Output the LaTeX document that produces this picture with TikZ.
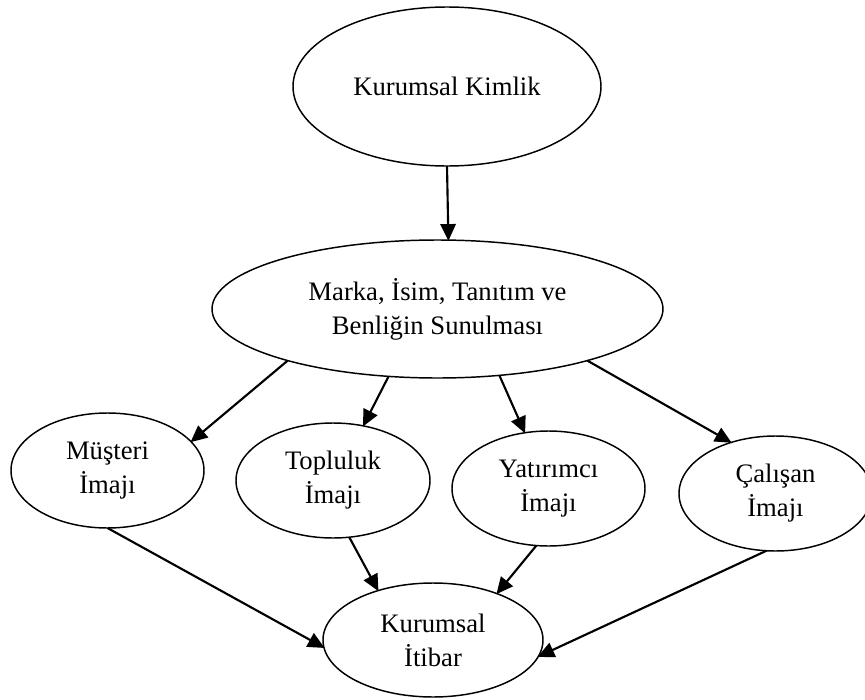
\documentclass[tikz,border=0pt]{standalone}
\usepackage{fontspec}
\setmainfont{Liberation Serif}
\usetikzlibrary{shapes.geometric,arrows.meta}
\begin{document}
\begin{tikzpicture}[x=0.75pt,y=-0.75pt,
  bubble/.style={ellipse,draw,line width=1.1pt,inner sep=0pt,outer sep=0pt,
    align=center,font=\fontsize{20}{25.5}\selectfont},
  flow/.style={line width=1.6pt,-{Triangle[length=12.5pt,width=11.5pt]},shorten >=-0.5pt}]
\useasboundingbox (0,0) rectangle (865,700);

% ellipses
\node[bubble,minimum width=231pt,minimum height=119.25pt] (kimlik) at (447,86.5) {Kurumsal Kimlik};
\node[bubble,minimum width=338.25pt,minimum height=103.5pt] (marka) at (437.5,309) {Marka, İsim, Tanıtım ve\\Benliğin Sunulması};
\node[bubble,minimum width=144.75pt,minimum height=86.25pt] (musteri) at (107.5,470.5) {Müşteri\\İmajı};
\node[bubble,minimum width=145.5pt,minimum height=86.25pt] (topluluk) at (333,480.5) {Topluluk\\İmajı};
\node[bubble,minimum width=144.75pt,minimum height=86.25pt] (yatirimci) at (548.5,488.5) {Yatırımcı\\İmajı};
\node[bubble,minimum width=144.75pt,minimum height=86.25pt] (calisan) at (775.5,493.5) {Çalışan\\İmajı};
\node[bubble,minimum width=165pt,minimum height=85.5pt] (itibar) at (433,640) {Kurumsal\\İtibar};

% connectors
\draw[flow] (kimlik.south) -- (marka.81.3);
\draw[flow] (marka.199.3) -- (musteri.19);
\draw[flow] (marka.234.9) -- (topluluk.61.3);
\draw[flow] (marka.313.8) -- (yatirimci.113.8);
\draw[flow] (marka.341.7) -- (calisan.131.9);
\draw[flow] (musteri.south) -- (itibar.184);
\draw[flow] (topluluk.286.7) -- (itibar.138.8);
\draw[flow] (yatirimci.258.6) -- (itibar.36);
\draw[flow] (calisan.261.6) -- (itibar.351);
\end{tikzpicture}
\end{document}
